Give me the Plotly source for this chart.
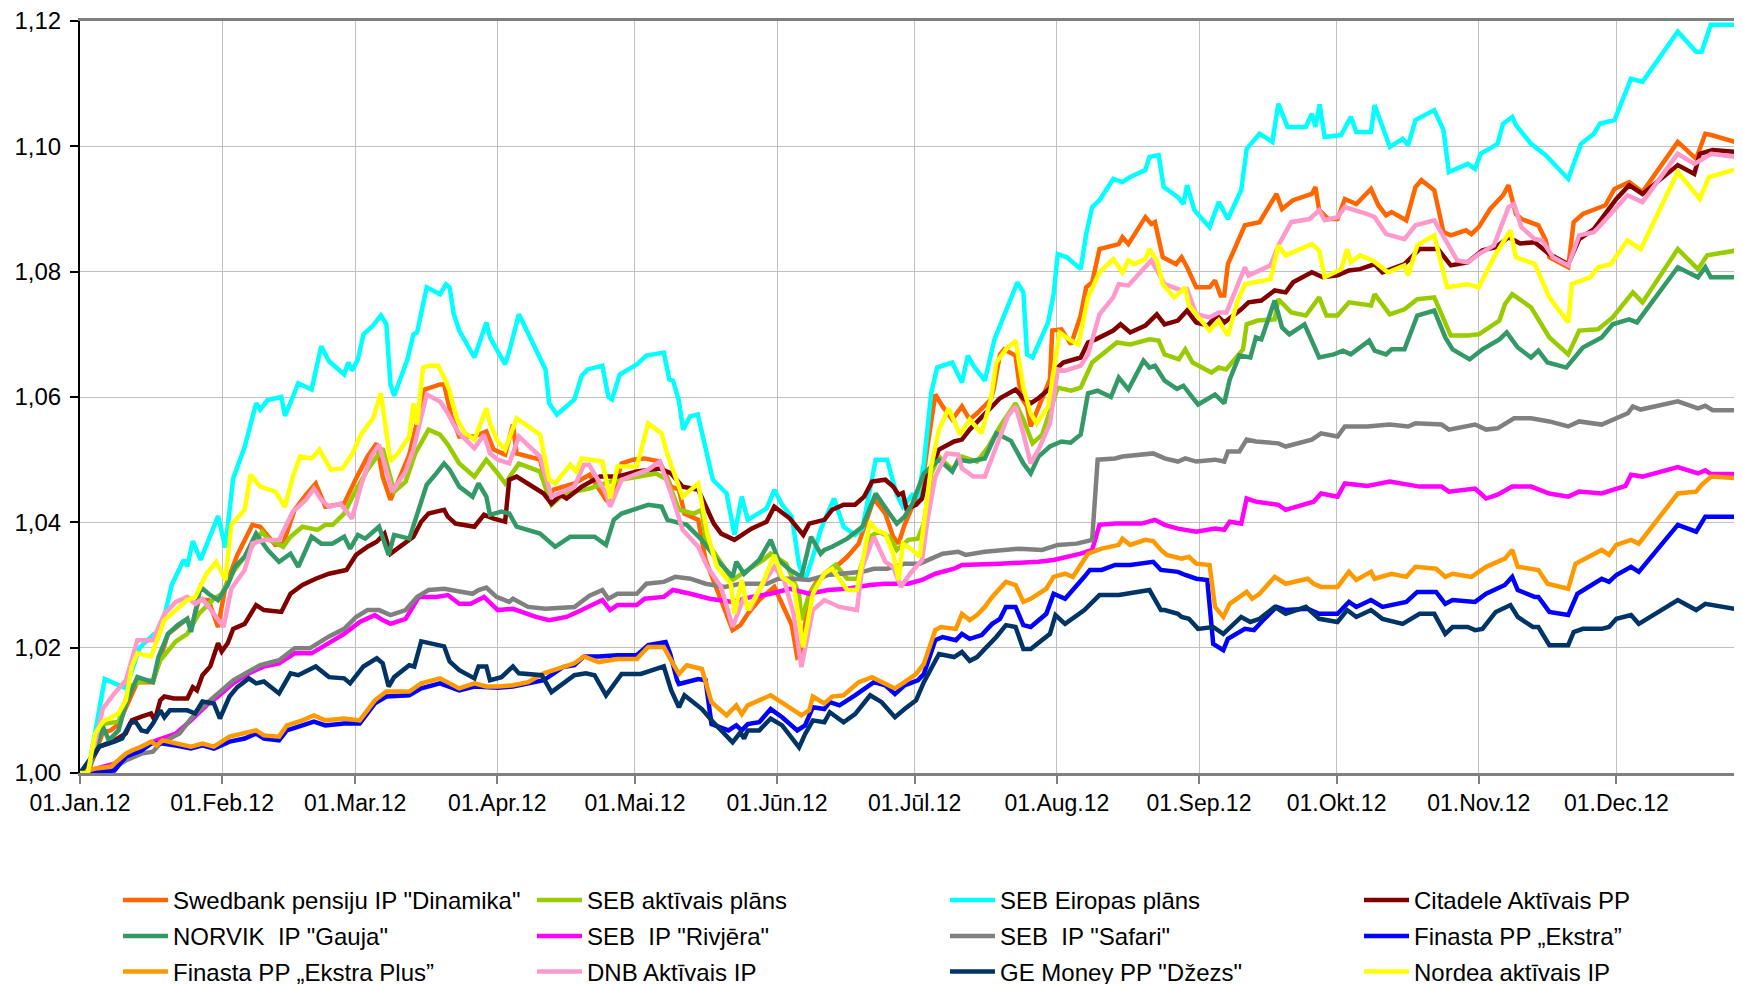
import plotly.graph_objects as go

# ---- axis labels ----
month_days = [0, 31, 60, 91, 121, 152, 182, 213, 244, 274, 305, 335]
month_labels = ["01.Jan.12", "01.Feb.12", "01.Mar.12", "01.Apr.12", "01.Mai.12", "01.Jūn.12",
                "01.Jūl.12", "01.Aug.12", "01.Sep.12", "01.Okt.12", "01.Nov.12", "01.Dec.12"]
y_ticks = [1.00, 1.02, 1.04, 1.06, 1.08, 1.10, 1.12]

names = ['Swedbank pensiju IP "Dinamika"', "SEB aktīvais plāns", "SEB Eiropas plāns", "Citadele Aktīvais PP",
         'NORVIK  IP "Gauja"', 'SEB  IP "Rivjēra"', 'SEB  IP "Safari"', "Finasta PP „Ekstra”",
         "Finasta PP „Ekstra Plus”", "DNB Aktīvais IP", 'GE Money PP "Džezs"', "Nordea aktīvais IP"]

# ---- data: (day of 2012, value) ----
swed = [(0,1.0),(1.7,1.0),(5,1.0065),(6.7,1.0068),(8.4,1.0078),(10.9,1.0121),(12.5,1.0145),(15.9,1.0145),(17.5,1.0185),(19.2,1.0222),(23.4,1.0246),(24.2,1.023),(25.9,1.0276),(28,1.0276),(30.1,1.0233),(31.7,1.0297),(34.3,1.0348),(37.6,1.0396),(39.3,1.0393),(40.9,1.038),(42.6,1.0364),(44.3,1.0366),(46.8,1.042),(49.3,1.0444),(51.4,1.0462),(53.5,1.0425),(57.6,1.043),(60.2,1.047),(62.7,1.0505),(64.7,1.0526),(66,1.0473),(67.7,1.0436),(70.2,1.0478),(71.8,1.0508),(75.2,1.0612),(78.5,1.062),(79.4,1.062),(80.2,1.0594),(81,1.0569),(82.7,1.0537),(86,1.0537),(88.6,1.0545),(90.2,1.0516),(92.7,1.0508),(94.4,1.0556),(95.2,1.051),(100.3,1.05),(102.3,1.0444),(103.2,1.0452),(107.8,1.0462),(111.1,1.0476),(114.7,1.0436),(115.6,1.043),(118.1,1.0494),(120.6,1.05),(123.1,1.0502),(126.4,1.0497),(128.9,1.0457),(130.6,1.0452),(131.8,1.0414),(134.8,1.0404),(136.4,1.034),(142.3,1.0228),(144,1.0236),(145.6,1.0254),(148.1,1.0276),(151.4,1.0297),(152.7,1.0276),(155.2,1.0236),(156.4,1.0185),(157.3,1.019),(159,1.0286),(160.6,1.0305),(163.1,1.0318),(167.3,1.0345),(169.8,1.0366),(173.1,1.0438),(175.6,1.0414),(177.3,1.0377),(178.5,1.0366),(179.8,1.0396),(181.5,1.0425),(183.6,1.0457),(184.8,1.0521),(186.5,1.0604),(188.1,1.0585),(190.2,1.0564),(192.3,1.0585),(194,1.0564),(195.6,1.0574),(197.3,1.0588),(198.6,1.0596),(199.2,1.0612),(200.6,1.0668),(201.5,1.0676),(204,1.0666),(205.2,1.06),(206.5,1.0585),(207.3,1.0553),(209,1.0585),(211.5,1.0628),(212,1.0706),(214,1.0708),(216.1,1.0684),(218.2,1.073),(219.4,1.0775),(220.7,1.0783),(222.3,1.0836),(226.5,1.0844),(227.3,1.0855),(228.6,1.0844),(232.3,1.0887),(233.6,1.0876),(234.4,1.0879),(236.1,1.0823),(239,1.0812),(240.2,1.0823),(241.4,1.0807),(243.4,1.0775),(246.3,1.0775),(247.5,1.0786),(248.7,1.0762),(249.5,1.0762),(250.3,1.0812),(254,1.0874),(257.2,1.0879),(260.9,1.0924),(262.1,1.09),(264.5,1.0914),(268.6,1.0924),(269.4,1.0935),(270.2,1.0898),(272.2,1.0884),(274.2,1.0884),(275.8,1.0916),(278.3,1.0908),(281.5,1.0932),(283.1,1.0906),(284.8,1.089),(286,1.0895),(289.2,1.0882),(291.2,1.0935),(292.5,1.0946),(295.3,1.093),(297.3,1.0863),(298.9,1.0858),(302.2,1.0866),(303.4,1.086),(305,1.0871),(307.5,1.09),(310.3,1.0922),(311.5,1.0938),(313.1,1.0892),(314.3,1.0884),(318,1.0874),(319.6,1.085),(320.4,1.0823),(324.5,1.0807),(325.7,1.0879),(327.7,1.0892),(332.6,1.0906),(334.6,1.0932),(337.8,1.0943),(340.7,1.0927),(348.4,1.1007),(352.4,1.098),(354.4,1.102),(355.7,1.1018),(362.4,1.1004)]

seb_akt = [(0,1.0),(1.7,1.0004),(5,1.0078),(8.4,1.0082),(10.9,1.0138),(12.9,1.0145),(15.9,1.0148),(17.5,1.018),(20.9,1.021),(23.4,1.0222),(25.9,1.0254),(29.2,1.0278),(30.9,1.0286),(33.4,1.0321),(35.9,1.0345),(39.7,1.0385),(40.9,1.0374),(44.3,1.0361),(45.9,1.0377),(48.5,1.0393),(51.8,1.0388),(53.5,1.0396),(55.1,1.0396),(57.6,1.0414),(60.2,1.0452),(62.7,1.0484),(66,1.0518),(68.5,1.0449),(71,1.0465),(73.1,1.051),(76,1.0548),(78.5,1.054),(80.2,1.0524),(82.7,1.0494),(86,1.0473),(88.6,1.05),(91.1,1.0478),(92.7,1.0462),(95.7,1.0494),(100.3,1.0481),(102.8,1.0428),(105.3,1.0444),(107.8,1.0449),(111.1,1.0454),(115.6,1.0465),(121.4,1.0473),(125.6,1.0478),(128.1,1.0468),(130.6,1.042),(133.9,1.0414),(135.6,1.042),(136.4,1.0372),(139.8,1.0334),(142.3,1.0308),(145.6,1.0324),(149,1.034),(150.6,1.035),(154,1.0334),(156.8,1.0286),(157.3,1.0244),(159,1.0286),(162.3,1.0318),(164.8,1.0332),(167.3,1.031),(169.5,1.031),(172.3,1.0377),(174,1.0385),(176.5,1.0377),(178.1,1.0356),(179,1.0361),(180.6,1.0372),(182.7,1.0374),(184,1.0398),(185.6,1.0478),(187.3,1.0505),(190.2,1.0484),(192.3,1.0505),(195.6,1.0497),(198.1,1.0521),(200.6,1.0553),(204,1.059),(205.7,1.0564),(207.7,1.0526),(209.8,1.054),(212.3,1.0596),(213.2,1.0615),(216.1,1.061),(218.2,1.0615),(220.7,1.0655),(226.1,1.0687),(229,1.0684),(233.2,1.0692),(235.2,1.069),(236.5,1.0668),(239.6,1.066),(241,1.0676),(242.6,1.0655),(246.7,1.0639),(248.3,1.0647),(249.9,1.0644),(253.6,1.0676),(254.4,1.0716),(256.8,1.0722),(260.5,1.0724),(261.3,1.0756),(264.1,1.0735),(267.3,1.073),(270.2,1.0759),(271.8,1.073),(274.2,1.073),(276.7,1.0751),(281.5,1.0746),(282.3,1.0764),(285.6,1.0732),(288.8,1.074),(291.6,1.0756),(295.3,1.0759),(298.9,1.0698),(302.6,1.0698),(305,1.07),(309.5,1.0722),(310.7,1.0748),(312.3,1.0764),(316.4,1.0743),(320.4,1.0695),(324.5,1.0668),(326.9,1.0706),(331,1.0708),(334.2,1.0727),(338.6,1.0767),(340.7,1.0751),(348.4,1.0836),(352.8,1.0804),(354.8,1.0826),(361.3,1.0834),(362.4,1.0826)]

seb_eir = [(0,1.0),(1.7,1.0),(5.4,1.015),(7.5,1.0143),(10,1.0135),(13,1.02),(15.9,1.022),(16.7,1.021),(18.4,1.025),(20,1.03),(22.6,1.034),(23.4,1.033),(24.6,1.037),(26.3,1.034),(28.4,1.038),(30.1,1.041),(31.7,1.036),(33.4,1.047),(35.9,1.052),(38.4,1.059),(39.3,1.058),(40.9,1.0595),(43.9,1.06),(44.7,1.057),(46.4,1.06),(47.6,1.0622),(50.5,1.0612),(51.4,1.0644),(52.6,1.0681),(54.3,1.0657),(57.6,1.0636),(58.5,1.0655),(59.3,1.0642),(60.6,1.066),(61.8,1.07),(63.9,1.0714),(65.6,1.073),(66.8,1.0716),(67.7,1.062),(68.5,1.0602),(71.4,1.066),(72.7,1.07),(73.5,1.0703),(75.6,1.0775),(78.5,1.0764),(79.8,1.078),(80.6,1.0775),(81.5,1.0732),(82.7,1.0706),(86,1.0663),(88.6,1.0719),(89.4,1.0695),(92.7,1.0652),(93.6,1.0673),(95.7,1.0732),(101.5,1.0644),(102.3,1.059),(104,1.0572),(106.1,1.0585),(107.8,1.0596),(109.4,1.0634),(110.7,1.0644),(113.9,1.065),(115.2,1.06),(116,1.0596),(117.7,1.0636),(121.4,1.0652),(123.5,1.0666),(127.3,1.0671),(128.5,1.0628),(129.3,1.0626),(130.6,1.0594),(131.5,1.0548),(133,1.0569),(134.7,1.0572),(136.4,1.0516),(138,1.0468),(141,1.0446),(142.7,1.038),(144.3,1.0441),(145.6,1.0404),(149.7,1.0422),(151.4,1.0452),(153.1,1.0428),(155.2,1.0409),(156.8,1.0332),(158.1,1.0308),(159.8,1.0345),(161.5,1.0388),(164.4,1.0438),(166.5,1.0393),(169,1.038),(170.6,1.039),(173.5,1.05),(176,1.05),(178.1,1.0444),(179.4,1.0425),(181.5,1.0444),(182.7,1.0441),(184,1.0494),(185.6,1.0606),(186.9,1.0647),(190.2,1.0655),(192.3,1.0623),(193.6,1.0666),(194.8,1.065),(197.3,1.0626),(199.4,1.0692),(201.5,1.0732),(204.4,1.0783),(205.7,1.0767),(206.5,1.0668),(207.7,1.0663),(211.1,1.0719),(212.3,1.0764),(213.2,1.0828),(215.2,1.0823),(218.2,1.0804),(219.4,1.086),(220.7,1.0903),(222.3,1.0914),(225.3,1.0948),(227.3,1.0943),(229,1.0951),(232.3,1.0962),(233.2,1.0983),(235.2,1.0986),(236.3,1.0935),(239.4,1.0919),(240.6,1.0908),(241.4,1.0938),(243,1.0898),(246.3,1.0871),(248.3,1.0911),(250.3,1.0884),(253.2,1.093),(254.4,1.0996),(257.2,1.102),(260,1.1007),(261.3,1.1068),(263.3,1.1031),(267.3,1.1031),(268.6,1.1052),(269.4,1.1031),(270.3,1.1067),(271.4,1.1015),(275,1.1018),(277.1,1.1047),(278.3,1.1023),(281.5,1.1023),(282.3,1.1066),(285.6,1.0999),(288.4,1.1012),(289.6,1.1002),(291.2,1.1042),(295.3,1.1058),(297.3,1.1026),(298.5,1.0959),(302.6,1.0972),(304.2,1.0964),(305.4,1.0988),(309.1,1.1004),(310.3,1.1036),(312.3,1.1047),(313.1,1.1034),(316.4,1.1004),(319.6,1.0986),(324.5,1.0948),(327.3,1.1004),(330.1,1.102),(331.4,1.1036),(334.6,1.1042),(338.2,1.1108),(340.7,1.1103),(348.4,1.1183),(352.4,1.1151),(353.6,1.1151),(355.6,1.1194),(362.4,1.1194)]

citadele = [(0,1.0),(2.5,1.002),(4.2,1.0042),(7.5,1.0052),(10,1.0063),(11.3,1.0084),(13.4,1.009),(15.5,1.0095),(16.3,1.0084),(17.5,1.0116),(18.4,1.0122),(20.5,1.0119),(23.4,1.0119),(24.6,1.0137),(25.5,1.0132),(26.7,1.0156),(28.4,1.017),(30.1,1.0207),(30.9,1.0194),(32.2,1.0207),(33.4,1.023),(35.9,1.0238),(38.4,1.0268),(40.1,1.026),(43.9,1.0257),(45.9,1.0286),(48.5,1.03),(51.4,1.031),(54.3,1.0318),(58.1,1.0324),(60.2,1.0348),(62.7,1.0361),(64.7,1.0369),(66.4,1.0382),(67.7,1.035),(70.2,1.0364),(72.7,1.0377),(74.4,1.0401),(76,1.0414),(77.7,1.0417),(79.4,1.042),(80.2,1.0409),(81.9,1.0398),(86,1.0393),(88.1,1.0412),(90.2,1.0406),(92.7,1.0401),(93.6,1.0468),(95.2,1.0473),(101.1,1.0446),(102.8,1.043),(104.8,1.0444),(106.1,1.0438),(109.4,1.0457),(113.4,1.0473),(117.2,1.0473),(121.4,1.0481),(126.4,1.0486),(128.9,1.0478),(131.4,1.0457),(134.8,1.0452),(138.2,1.0398),(139.8,1.0382),(142.7,1.0372),(146.4,1.039),(149.7,1.0401),(151.4,1.0425),(154.8,1.0406),(157.7,1.038),(159,1.0398),(162.3,1.0404),(164,1.042),(166.5,1.0428),(169,1.0428),(171,1.0441),(172.7,1.0465),(175.6,1.0468),(177.3,1.0457),(178.5,1.0444),(179.4,1.0447),(180.2,1.0422),(182.3,1.0428),(183.6,1.0438),(184.8,1.0476),(187.3,1.0516),(190.6,1.0529),(192.3,1.0532),(194,1.0548),(197.3,1.0574),(200.6,1.0598),(204,1.0612),(205.7,1.0598),(207.3,1.059),(209,1.0598),(211.5,1.0614),(213.2,1.0647),(214.4,1.0655),(218.2,1.0663),(219.8,1.0687),(221.5,1.0692),(225.3,1.0706),(226.9,1.0716),(229,1.0703),(232.3,1.0714),(234.8,1.0732),(236.5,1.0716),(239.4,1.0722),(241.4,1.0738),(243.4,1.0719),(245.9,1.0714),(247.9,1.073),(249.5,1.0719),(253.2,1.074),(254.8,1.0751),(257.6,1.0754),(260.5,1.077),(262.9,1.0767),(264.5,1.0783),(268.6,1.0799),(271,1.0791),(274.2,1.0794),(276.7,1.0802),(279.1,1.0804),(282.3,1.0812),(284,1.0799),(288.8,1.0812),(292.1,1.0836),(296.1,1.0836),(298.9,1.081),(302.6,1.0815),(305.8,1.0834),(308.7,1.0839),(311.5,1.0855),(314,1.0845),(317.2,1.0847),(320.4,1.0828),(324.5,1.0812),(326.9,1.0852),(330.1,1.0868),(332.6,1.0892),(335,1.0916),(337.8,1.0938),(340.7,1.0924),(348.4,1.097),(352,1.0956),(353.2,1.0988),(356,1.0994),(361.3,1.0991),(362.4,1.0978)]

norvik = [(0,1.0),(1.7,1.0),(5,1.0074),(6.3,1.0052),(8.4,1.0068),(10,1.0111),(12.5,1.0153),(15.9,1.0145),(17.1,1.0185),(19.2,1.0222),(21.3,1.0236),(23.4,1.0246),(24.2,1.0225),(26.3,1.0297),(28,1.0286),(30.1,1.0276),(32.2,1.03),(33.8,1.0329),(35.9,1.0345),(38.4,1.0382),(40.9,1.0356),(43.4,1.0337),(45.9,1.035),(47.6,1.0329),(50.5,1.0377),(52.6,1.0366),(55,1.0366),(57.6,1.0377),(58.9,1.0358),(60.6,1.038),(62.2,1.0374),(65.2,1.0393),(67.3,1.0348),(68.5,1.038),(71.8,1.0374),(73.5,1.0414),(75.6,1.046),(77.7,1.0478),(79.4,1.0494),(80.6,1.0484),(82.7,1.0457),(85.6,1.0441),(86.9,1.0462),(88.6,1.0441),(89.4,1.0412),(91.9,1.0417),(93.6,1.0414),(95.2,1.0393),(100.3,1.0382),(103.6,1.0361),(106.9,1.0377),(109,1.0377),(112.2,1.0377),(114.7,1.0364),(116.4,1.0404),(118.1,1.0414),(123.9,1.0428),(126.8,1.0425),(128.1,1.0404),(132.3,1.0396),(135.6,1.0372),(138.9,1.034),(142.3,1.0313),(143.1,1.0337),(144.8,1.0318),(148.1,1.034),(150.6,1.0372),(152.3,1.034),(154.8,1.0324),(157.3,1.0313),(159.4,1.0377),(161.5,1.035),(162.3,1.0356),(164,1.0361),(167.3,1.0374),(170.6,1.0393),(173.5,1.0446),(176.5,1.0414),(178.1,1.0398),(179.8,1.0409),(181.5,1.043),(184,1.0478),(187.3,1.05),(190.2,1.0481),(191.5,1.05),(194,1.0497),(197.3,1.0502),(199.8,1.0542),(203,1.053),(205.7,1.0494),(207.3,1.0478),(209,1.0505),(211.5,1.0521),(214,1.0529),(216,1.0527),(218.2,1.054),(219.8,1.0606),(221.9,1.061),(224.8,1.06),(226.5,1.0631),(228.6,1.0612),(231.9,1.0658),(233.2,1.0647),(234.4,1.065),(236.5,1.0626),(239.2,1.0613),(240.6,1.0618),(242.6,1.0599),(243.8,1.0588),(247.5,1.0604),(249.5,1.059),(250.7,1.0628),(252.8,1.0666),(255.2,1.0663),(256.4,1.0695),(257.6,1.0692),(260.5,1.0754),(262.1,1.0711),(263.7,1.07),(267,1.0716),(268.6,1.069),(270.2,1.0663),(273.4,1.0668),(275.4,1.0674),(277.1,1.0668),(279.9,1.0684),(281.1,1.069),(282.3,1.0674),(284.8,1.0668),(286,1.0676),(288.8,1.0676),(291.6,1.073),(295.3,1.0738),(297.7,1.0695),(299.3,1.0676),(303,1.066),(305.8,1.0676),(309.5,1.0692),(311.1,1.0703),(313.5,1.0679),(316.4,1.0663),(318,1.0674),(320,1.0655),(324.1,1.0647),(326.1,1.0666),(327.7,1.0679),(331.8,1.0695),(334.2,1.0716),(337.8,1.0724),(339.5,1.0719),(348.4,1.0807),(352.8,1.0791),(354.4,1.0807),(355.6,1.0791),(361.3,1.0791),(362.4,1.077)]

rivjera = [(0,1.0),(3.3,1.0007),(7.5,1.0015),(10,1.0026),(13.4,1.0042),(16.7,1.0052),(20.9,1.0063),(24.2,1.0084),(27.6,1.0108),(30.1,1.0122),(33.4,1.0143),(36.8,1.0159),(40.1,1.017),(43.4,1.0175),(46.8,1.0191),(50.5,1.0191),(54.3,1.0207),(57.6,1.0222),(61,1.0241),(64.3,1.0252),(66,1.0244),(67.7,1.0238),(71,1.0246),(73.9,1.0281),(77.7,1.0281),(80.2,1.0284),(82.7,1.027),(85.2,1.027),(88.1,1.0281),(91.1,1.026),(94.4,1.0262),(99.4,1.0249),(102.3,1.0244),(106.1,1.0249),(109.4,1.026),(113.9,1.0276),(115.6,1.026),(117.2,1.0268),(121.4,1.0268),(123.1,1.0278),(127.3,1.0281),(129.3,1.0292),(133.1,1.0286),(137.3,1.0278),(142.3,1.0273),(146.4,1.0281),(150.6,1.0286),(154.8,1.0294),(159,1.0286),(163.1,1.0292),(167.3,1.0294),(172.3,1.03),(175.6,1.0302),(180.6,1.0302),(183.6,1.0308),(186.5,1.0318),(190.6,1.0326),(192.3,1.0332),(200.6,1.0334),(209,1.0337),(212.3,1.034),(215.7,1.0345),(218.2,1.035),(220.7,1.0356),(222.3,1.0396),(225.7,1.0398),(229,1.0397),(231.5,1.0398),(234.4,1.0404),(236.5,1.0396),(239.4,1.039),(243.4,1.0385),(247.5,1.039),(249.5,1.0388),(250.7,1.0401),(253.2,1.0398),(254.4,1.0438),(256.4,1.0433),(261.3,1.0428),(262.9,1.042),(269,1.0433),(270.6,1.0446),(274.2,1.0441),(275.8,1.0462),(280.7,1.0458),(285.6,1.0465),(292.1,1.0457),(296.9,1.0457),(298.5,1.0449),(304.2,1.0454),(306.6,1.0438),(309.1,1.0444),(312.3,1.0457),(316.4,1.0457),(320.4,1.0446),(324.5,1.0441),(326.9,1.0449),(331.8,1.0446),(337,1.0458),(338.2,1.0476),(340.7,1.0473),(348.4,1.0488),(352.8,1.0478),(354.4,1.0483),(355.6,1.0477),(362.4,1.0477)]

safari = [(0,1.0),(3.3,1.0004),(7.5,1.001),(10,1.002),(13.4,1.0031),(15.9,1.0034),(17.5,1.0047),(21.7,1.0063),(24.2,1.0087),(27.6,1.0111),(30.1,1.0127),(33.4,1.0148),(36.8,1.0162),(39.3,1.0172),(43.4,1.018),(46.8,1.0199),(50.1,1.0199),(54.3,1.0218),(57.6,1.023),(60.2,1.0249),(62.7,1.026),(65.2,1.026),(67.7,1.0252),(71,1.026),(73.5,1.0281),(76,1.0292),(79.4,1.0294),(82.7,1.0289),(85.6,1.0286),(86.9,1.0292),(88.6,1.0296),(90.8,1.0281),(93.6,1.0273),(94.4,1.0278),(97.7,1.0265),(101.5,1.0262),(107.8,1.0265),(111.1,1.0283),(113.9,1.0292),(115.2,1.0278),(117.2,1.0286),(121.4,1.0286),(123.5,1.0302),(127.3,1.0305),(129.8,1.0313),(133.1,1.031),(136.4,1.0302),(140.6,1.0297),(144,1.0302),(149.8,1.0302),(152.3,1.031),(155.6,1.031),(159,1.0308),(163.1,1.0316),(167.3,1.0318),(170.6,1.0321),(173.1,1.0326),(176,1.0326),(179.8,1.0334),(183.1,1.0334),(185.6,1.0342),(188.1,1.035),(191.5,1.0353),(193.1,1.0348),(197.3,1.0353),(200.6,1.0356),(204.8,1.0358),(209.8,1.0356),(213.2,1.0364),(217.3,1.0366),(220.7,1.0372),(221.9,1.05),(225.7,1.0502),(227.3,1.0505),(231.5,1.0508),(234,1.051),(236.5,1.0502),(239.4,1.0497),(241,1.0502),(243.4,1.0497),(247.5,1.05),(249.5,1.0497),(250.3,1.0513),(252.8,1.0513),(254.4,1.0532),(256.4,1.0529),(261.3,1.0526),(262.9,1.0521),(268.6,1.0532),(270.6,1.0542),(274.2,1.0537),(275.8,1.0553),(280.7,1.0553),(285.6,1.0556),(289.6,1.0553),(291.2,1.0558),(296.9,1.0556),(298.5,1.0548),(304.2,1.0556),(306.6,1.0548),(309.1,1.055),(312.7,1.0566),(316.4,1.0566),(320.4,1.0561),(324.5,1.0553),(326.9,1.0561),(331.8,1.0556),(337.5,1.0574),(338.6,1.0585),(340.3,1.058),(348.4,1.0593),(352.8,1.0582),(354.4,1.0586),(356,1.0579),(362.4,1.0579)]

fin_ekstra = [(0,1.0),(3.3,1.0002),(7.5,1.0004),(10,1.0026),(13.4,1.0036),(15.5,1.0047),(18,1.0047),(20.9,1.0044),(24.2,1.0039),(26.7,1.0044),(29.2,1.0039),(32.6,1.005),(35.9,1.0055),(38.4,1.0063),(40.1,1.0055),(43.4,1.0052),(45.1,1.0068),(48.5,1.0076),(51,1.0082),(53.5,1.0076),(57.6,1.0079),(61,1.0079),(64.3,1.0111),(66.8,1.0122),(71.8,1.0124),(74.4,1.0135),(78.5,1.0143),(82.7,1.0132),(86,1.0138),(91.1,1.0136),(94.4,1.0138),(101.1,1.0148),(105.3,1.0169),(107.8,1.0172),(109.9,1.0186),(113.1,1.0186),(117.2,1.0188),(121.4,1.0188),(123.9,1.0204),(127.7,1.0209),(128.7,1.019),(130.2,1.0148),(130.6,1.0142),(134.8,1.015),(136.4,1.0148),(137.7,1.0078),(141.4,1.0068),(143.1,1.0076),(144.3,1.0068),(145.6,1.0078),(148.1,1.0081),(150.6,1.0102),(153.1,1.0089),(156.4,1.0068),(158.1,1.0076),(159.8,1.0105),(162.3,1.0102),(163.5,1.0113),(165.6,1.0108),(169,1.0124),(173.1,1.0145),(175.6,1.014),(177.7,1.0126),(179.8,1.014),(182.7,1.0148),(184,1.0158),(186.5,1.0212),(188.1,1.0217),(191,1.0212),(192.3,1.0222),(194,1.0214),(196.6,1.022),(198.9,1.0238),(200.6,1.0246),(201.9,1.0265),(204,1.0265),(205.7,1.0236),(207.3,1.0233),(210.7,1.0254),(212.3,1.0286),(214.8,1.0278),(219,1.0313),(220.2,1.0324),(222.8,1.0324),(225.7,1.0332),(229,1.0332),(231.5,1.0334),(234,1.0337),(235.7,1.0324),(239.4,1.0321),(241,1.0316),(243.4,1.031),(245.8,1.0308),(247.1,1.0206),(249.3,1.0196),(250.3,1.0214),(254,1.023),(256,1.0228),(258,1.0244),(260.9,1.0265),(262.9,1.026),(267.7,1.0262),(270.2,1.0254),(274.2,1.0254),(276.7,1.0273),(278.3,1.0265),(281.5,1.0276),(284,1.0265),(289.2,1.0273),(291.6,1.0289),(295.7,1.0289),(297.7,1.027),(299.3,1.0276),(304.2,1.0273),(306.6,1.0286),(310.7,1.03),(312.3,1.0313),(313.5,1.0292),(317.2,1.0281),(318,1.0281),(320.4,1.0257),(324.5,1.0252),(326.5,1.0286),(331.8,1.031),(333.4,1.0305),(335,1.0316),(338.2,1.0329),(339.9,1.0321),(348.4,1.0396),(352.4,1.0385),(354.4,1.0409),(360.9,1.0409),(362.4,1.0398)]

fin_plus = [(0,1.0),(3.3,1.0007),(6.7,1.001),(10,1.0031),(11.3,1.0036),(13.4,1.0042),(15.5,1.005),(16.7,1.0044),(18,1.0052),(20.9,1.0047),(24.2,1.0042),(26.7,1.0047),(29.2,1.0042),(32.6,1.0058),(35.9,1.0063),(38.4,1.0068),(40.1,1.006),(43.4,1.0058),(45.1,1.0076),(48.5,1.0084),(51,1.0092),(53.5,1.0084),(57.6,1.0087),(61,1.0084),(64.3,1.0116),(66.8,1.013),(71.8,1.013),(74.4,1.0143),(78.5,1.0151),(80.2,1.0145),(82.7,1.0135),(86,1.0143),(88.6,1.0138),(91.1,1.0138),(94.4,1.014),(97.7,1.0145),(101.1,1.0159),(105.3,1.0169),(107.8,1.0175),(109.9,1.0186),(113.1,1.0177),(117.2,1.0182),(121.4,1.0182),(123.9,1.0201),(127.3,1.0201),(128.5,1.0185),(130.6,1.0158),(132.3,1.0172),(135.6,1.0166),(137.7,1.0113),(141,1.0092),(143.1,1.0108),(144.3,1.0094),(145.6,1.0108),(148.1,1.0116),(150.6,1.0124),(154,1.0108),(157.3,1.0092),(159,1.01),(159.8,1.0122),(162.3,1.0111),(164,1.0122),(166.5,1.0124),(169.8,1.0145),(172.7,1.0153),(174.8,1.0145),(177.7,1.0135),(179.8,1.0145),(182.3,1.0158),(184,1.0174),(186.5,1.0228),(187.7,1.0233),(191,1.023),(192.3,1.0254),(194,1.0244),(195.6,1.0252),(197.3,1.0265),(198.9,1.0281),(201.9,1.0305),(204,1.03),(205.7,1.0273),(207.3,1.0278),(210.7,1.0294),(212.3,1.0313),(214.8,1.0318),(216.5,1.0313),(219,1.0342),(219.8,1.035),(222.8,1.0358),(226.5,1.0364),(227.3,1.0374),(229,1.0364),(232.3,1.0372),(234,1.037),(235.7,1.0356),(237,1.0348),(240.2,1.0342),(241.8,1.0345),(243.4,1.0334),(246.3,1.0332),(247.5,1.0265),(249.3,1.0249),(250.7,1.027),(254.4,1.0289),(255.6,1.0278),(257.2,1.0286),(260.5,1.0313),(262.9,1.0302),(267.7,1.031),(269,1.0302),(270.6,1.0297),(274.2,1.0297),(276.7,1.0321),(278.3,1.0308),(281.5,1.0321),(282.3,1.031),(286,1.0318),(289.2,1.0313),(291.2,1.0329),(295.7,1.0326),(297.7,1.0313),(299.3,1.0318),(303.4,1.0313),(306.6,1.0329),(310.7,1.0342),(312.3,1.0356),(313.5,1.0329),(316.8,1.0324),(318,1.0324),(320,1.0302),(324.5,1.0294),(326.1,1.0334),(331.8,1.0356),(333.4,1.0348),(335,1.0364),(338.2,1.0372),(339.9,1.0366),(348.4,1.0446),(352.4,1.0449),(353.6,1.046),(355.7,1.0473),(362.4,1.047)]

dnb = [(0,1.0),(1.7,1.0),(5,1.0103),(7.5,1.0127),(10,1.0148),(12.5,1.0212),(15.9,1.0212),(18.4,1.0254),(20.9,1.0273),(23.4,1.0281),(25.1,1.027),(26.7,1.0278),(29.2,1.0254),(31.3,1.0233),(33,1.0294),(35.9,1.0324),(37.6,1.0366),(40.1,1.0372),(43.4,1.0372),(44.7,1.039),(46.4,1.0417),(49.3,1.0436),(51,1.0454),(52.6,1.0436),(54.3,1.0425),(56.8,1.043),(59.3,1.0406),(61.4,1.0462),(63.5,1.0505),(65.2,1.0524),(66.8,1.0484),(68.1,1.0449),(71,1.0481),(72.7,1.0516),(73.9,1.0553),(75.6,1.0604),(78.5,1.0593),(80.2,1.0574),(81.5,1.0556),(82.7,1.0542),(86,1.0518),(88.1,1.054),(89.4,1.051),(91.1,1.05),(93.6,1.0494),(95.7,1.0537),(100.3,1.0505),(102.8,1.0441),(107.8,1.0457),(109.9,1.0492),(111,1.0492),(114.7,1.0446),(115.6,1.0425),(118.1,1.0468),(123.9,1.0484),(126.4,1.0497),(128.9,1.0446),(131.4,1.0388),(134.8,1.0361),(136.8,1.0329),(139.8,1.0297),(142.3,1.0233),(144.8,1.0281),(146,1.026),(148.9,1.0302),(151.4,1.0329),(153.5,1.0308),(155.6,1.0254),(157.3,1.0169),(159.8,1.026),(162.3,1.0276),(165.6,1.0265),(169.4,1.026),(170.6,1.0329),(173.1,1.0377),(175.6,1.0337),(177.3,1.0329),(179,1.0297),(181,1.0318),(183.6,1.034),(184.8,1.0404),(186.5,1.0473),(189,1.051),(191.5,1.0508),(192.3,1.0486),(194.8,1.0473),(197.3,1.0473),(199.8,1.0521),(202.3,1.0569),(204,1.0585),(205.7,1.0542),(207.3,1.0494),(209,1.0516),(211.5,1.0558),(213.2,1.0644),(214.8,1.0642),(218.2,1.065),(219.8,1.0668),(222.3,1.0732),(225.3,1.0759),(226.5,1.078),(228.6,1.0778),(233.6,1.0818),(235.7,1.0791),(236.5,1.078),(240.2,1.077),(241.4,1.0772),(243.4,1.0732),(246.3,1.0727),(248.3,1.0735),(250,1.0735),(254,1.0807),(254.8,1.0794),(259.6,1.081),(261.3,1.0842),(264.1,1.0879),(268.1,1.0884),(270.2,1.0898),(271.4,1.0882),(274.2,1.0887),(275.8,1.0903),(280.7,1.0892),(282.3,1.0887),(284.8,1.086),(288.8,1.0852),(291.2,1.0874),(295.3,1.0882),(300.3,1.0818),(302.6,1.0815),(305,1.0828),(308.3,1.0842),(311.5,1.0903),(312.7,1.0908),(314.3,1.0871),(317.2,1.0852),(318.8,1.085),(321.2,1.0823),(324.5,1.081),(326.9,1.0858),(330.1,1.0863),(331.8,1.0876),(337.4,1.0922),(340.7,1.0911),(348.4,1.0988),(352,1.0972),(355.7,1.0988),(361.3,1.0983),(362.4,1.0972)]

ge_money = [(0,1.0),(2.5,1.0026),(4.2,1.0042),(7.5,1.005),(9.2,1.0055),(10.9,1.0079),(12.1,1.0082),(13.4,1.0068),(14.6,1.0066),(15.9,1.0079),(17.5,1.01),(18.4,1.0089),(19.6,1.01),(23.4,1.01),(25.1,1.0095),(26.7,1.0114),(29.2,1.0111),(30.5,1.0087),(32.6,1.0122),(34.3,1.0137),(36.8,1.0151),(38.4,1.0143),(40.1,1.0146),(43.4,1.0127),(45.9,1.0159),(47.6,1.0156),(51.4,1.017),(54.3,1.0153),(57.6,1.0151),(58.9,1.0143),(61.8,1.017),(64.7,1.0183),(66,1.0175),(67.3,1.0138),(68.5,1.0153),(71.8,1.0172),(72.9,1.017),(74.4,1.021),(76,1.0207),(79.4,1.0202),(80.6,1.0178),(82.7,1.0164),(86,1.0151),(86.9,1.017),(88.6,1.017),(89.4,1.0148),(91.9,1.0153),(94.4,1.017),(95.7,1.0159),(100.7,1.0156),(102.8,1.0129),(105.3,1.0143),(107.8,1.0156),(110.3,1.0159),(112.2,1.0156),(114.7,1.0124),(116.4,1.014),(118.1,1.0158),(122.3,1.0158),(127.3,1.017),(128.9,1.0132),(130.6,1.0105),(131.8,1.0124),(135.6,1.0102),(138.1,1.0081),(142.3,1.0049),(144,1.0065),(144.8,1.0055),(145.6,1.0068),(148.1,1.0068),(150.6,1.0087),(153.1,1.0076),(156.8,1.0041),(158.1,1.0062),(159.8,1.0084),(162.3,1.0081),(163.5,1.0097),(166.5,1.0081),(169,1.0094),(172.3,1.0124),(174.8,1.0113),(177.7,1.0089),(179.8,1.0102),(182.3,1.0116),(184,1.0145),(187.3,1.019),(190.6,1.0185),(192.3,1.0193),(194,1.0179),(195.6,1.0185),(197.3,1.0198),(199.8,1.0217),(201.9,1.0236),(204,1.0233),(205.7,1.0198),(207.3,1.0198),(211.5,1.0222),(212.7,1.0252),(214.8,1.0238),(219,1.026),(222.3,1.0284),(226.5,1.0284),(228.2,1.0286),(233.2,1.0292),(235.7,1.026),(236.5,1.026),(239.4,1.0254),(240.2,1.0249),(241.8,1.0246),(243.8,1.023),(247.1,1.0233),(249.3,1.0222),(253.2,1.0249),(255.2,1.0241),(257.2,1.0246),(260.5,1.0265),(262.9,1.0254),(267.3,1.0265),(270.2,1.0246),(274.2,1.0241),(276.3,1.026),(278.3,1.0249),(281.5,1.026),(284,1.0246),(288.4,1.0238),(292.1,1.0254),(295.3,1.0254),(297.7,1.0222),(299.3,1.0233),(302.6,1.0233),(304.2,1.0228),(305.8,1.023),(308.7,1.0257),(311.9,1.0268),(313.5,1.0249),(316.8,1.0233),(318,1.0233),(320.4,1.0204),(324.5,1.0204),(325.7,1.0225),(327.7,1.023),(331.8,1.023),(333.4,1.0233),(335,1.0246),(338.2,1.0252),(339.9,1.0238),(348.4,1.0276),(352.4,1.026),(354.4,1.027),(362.4,1.026)]

nordea = [(0,1.0),(1.7,1.0),(3.3,1.0063),(5,1.0082),(8.4,1.0095),(10,1.0116),(11.3,1.017),(12.5,1.0191),(15.5,1.0186),(18.4,1.0244),(20.9,1.026),(23.4,1.0276),(25.1,1.0281),(27.6,1.0318),(29.7,1.0337),(31.7,1.0308),(33,1.0396),(35.9,1.042),(37.2,1.0476),(39.3,1.0457),(42.6,1.0449),(44.7,1.0425),(46.4,1.0473),(48,1.0505),(50.5,1.0502),(52.2,1.0516),(54.7,1.0484),(57.2,1.0486),(59.3,1.0508),(61.4,1.0542),(63.9,1.0566),(65.6,1.0606),(67.7,1.0497),(69.3,1.051),(71.8,1.0537),(72.7,1.059),(73.5,1.0556),(74.8,1.0647),(76,1.065),(78.1,1.065),(79.4,1.0631),(80.6,1.061),(81,1.0596),(82.3,1.0564),(84,1.0542),(86,1.0532),(88.6,1.0582),(89.4,1.0558),(91.1,1.0529),(92.7,1.0516),(95.2,1.0566),(97.7,1.0553),(100.3,1.054),(102.3,1.0468),(103.6,1.0462),(106.9,1.0492),(108.2,1.0481),(109.4,1.0502),(113.9,1.0497),(115.6,1.0438),(117.2,1.0489),(121.4,1.0489),(123.9,1.0558),(126.8,1.0542),(128.1,1.0508),(131.4,1.0441),(134.8,1.0462),(136.8,1.0382),(138.9,1.0329),(141.9,1.0302),(142.7,1.0254),(144.3,1.0308),(145.6,1.026),(148.5,1.0297),(151.4,1.0348),(153.1,1.0313),(155.6,1.03),(156.8,1.0244),(157.7,1.0201),(159.8,1.0286),(162.3,1.0318),(164,1.0326),(165.6,1.0308),(167.3,1.0292),(169.4,1.0292),(172.3,1.0401),(173.5,1.0388),(175.6,1.0382),(177.3,1.035),(178.5,1.0308),(179.4,1.0366),(181.5,1.0356),(183.1,1.0345),(185.6,1.0489),(187.3,1.0548),(189.4,1.0582),(191.9,1.054),(194,1.0564),(196.6,1.0542),(198.6,1.0596),(199.8,1.0655),(201.9,1.0676),(204,1.069),(205.7,1.0615),(207.3,1.0574),(208.6,1.0558),(211.1,1.0585),(212.3,1.0647),(213.6,1.0703),(215.7,1.0692),(217.7,1.0684),(219.8,1.0759),(222.3,1.0799),(225.3,1.082),(227.3,1.0799),(228.6,1.0818),(229.8,1.0812),(232.3,1.082),(233.2,1.0836),(234.8,1.0818),(236.1,1.078),(238.6,1.0759),(241,1.0775),(241.8,1.0746),(246.3,1.0706),(248.3,1.0722),(250.3,1.0698),(252.3,1.0751),(254,1.078),(259.6,1.0788),(261.3,1.0842),(262.9,1.0826),(268.6,1.0844),(270.2,1.0834),(271.4,1.0791),(275,1.0804),(276.3,1.0836),(277.1,1.0815),(279.1,1.0826),(281.9,1.0818),(285.2,1.0799),(288.8,1.081),(289.6,1.0794),(291.6,1.0842),(295.3,1.0858),(298.1,1.0775),(302.6,1.078),(305,1.0775),(308.3,1.0823),(311.9,1.0866),(313.1,1.0823),(317.2,1.0812),(320.4,1.0759),(324.5,1.0719),(325.3,1.078),(329.3,1.0791),(331,1.0807),(333.8,1.0812),(337.4,1.085),(340.3,1.0836),(348.4,1.0959),(353.2,1.0916),(355.2,1.0951),(361.3,1.0964),(362.4,1.0924)]

series = [swed, seb_akt, seb_eir, citadele, norvik, rivjera, safari, fin_ekstra, fin_plus, dnb, ge_money, nordea]
colors = ["#FF6600", "#99CC00", "#00FFFF", "#800000", "#339966", "#FF00FF", "#808080", "#0000FF",
          "#FF9900", "#FF99CC", "#003366", "#FFFF00"]

FONT = "Arial, Liberation Sans, sans-serif"
# page has an 8px body margin; the figure is sized so it ends at the window's right edge
W, H = 1734, 992
L, R, T = 72, 0, 13
B = H - (772.7 - 8)
PW, PH = W - L - R, H - T - B

# legend grid (screen px): item left edges per column, centre y per row
col_left = [118, 532, 945, 1359]
row_y = [900, 936, 971.5]

fig = go.Figure()
layout_legends = {}
for i, (name, pts, col) in enumerate(zip(names, series, colors)):
    lid = "legend" if i == 0 else f"legend{i + 1}"
    fig.add_trace(go.Scatter(
        x=[p[0] for p in pts], y=[p[1] for p in pts], name=name, mode="lines",
        line=dict(color=col, width=4.5), legend=lid, showlegend=True))
    r, c = divmod(i, 4)
    layout_legends[lid] = dict(
        orientation="h", font=dict(family=FONT, size=24, color="black"),
        bgcolor="rgba(0,0,0,0)", itemwidth=45,
        x=((col_left[c] - 8) - L) / PW, xanchor="left",
        y=((H - B) - (row_y[r] - 8)) / PH, yanchor="middle",
        itemclick=False, itemdoubleclick=False)

fig.update_layout(
    width=W, height=H, margin=dict(l=L, r=R, t=T, b=B, pad=0, autoexpand=False),
    showlegend=True,
    paper_bgcolor="white", plot_bgcolor="white",
    separators=", ",
    font=dict(family=FONT, color="black"),
    xaxis=dict(range=[0, 362.4], tickmode="array", tickvals=month_days, ticktext=month_labels,
               showgrid=True, gridcolor="#C0C0C0", gridwidth=1, zeroline=False,
               showline=True, linecolor="#808080", linewidth=2.5, mirror=True,
               ticks="outside", ticklen=8, tickcolor="#808080", tickwidth=1.5,
               ticklabeloverflow="allow",
               tickfont=dict(family=FONT, size=23, color="black")),
    yaxis=dict(range=[1.0, 1.12], tickmode="array", tickvals=y_ticks, tickformat=".2f",
               showgrid=True, gridcolor="#C0C0C0", gridwidth=1, zeroline=False,
               showline=True, linecolor="black", linewidth=2,
               ticks="outside", ticklen=8, tickcolor="black", tickwidth=1.5, ticklabelstandoff=4,
               ticklabeloverflow="allow",
               tickfont=dict(family=FONT, size=24, color="black")),
    **layout_legends,
)
fig.write_html("out.html")
